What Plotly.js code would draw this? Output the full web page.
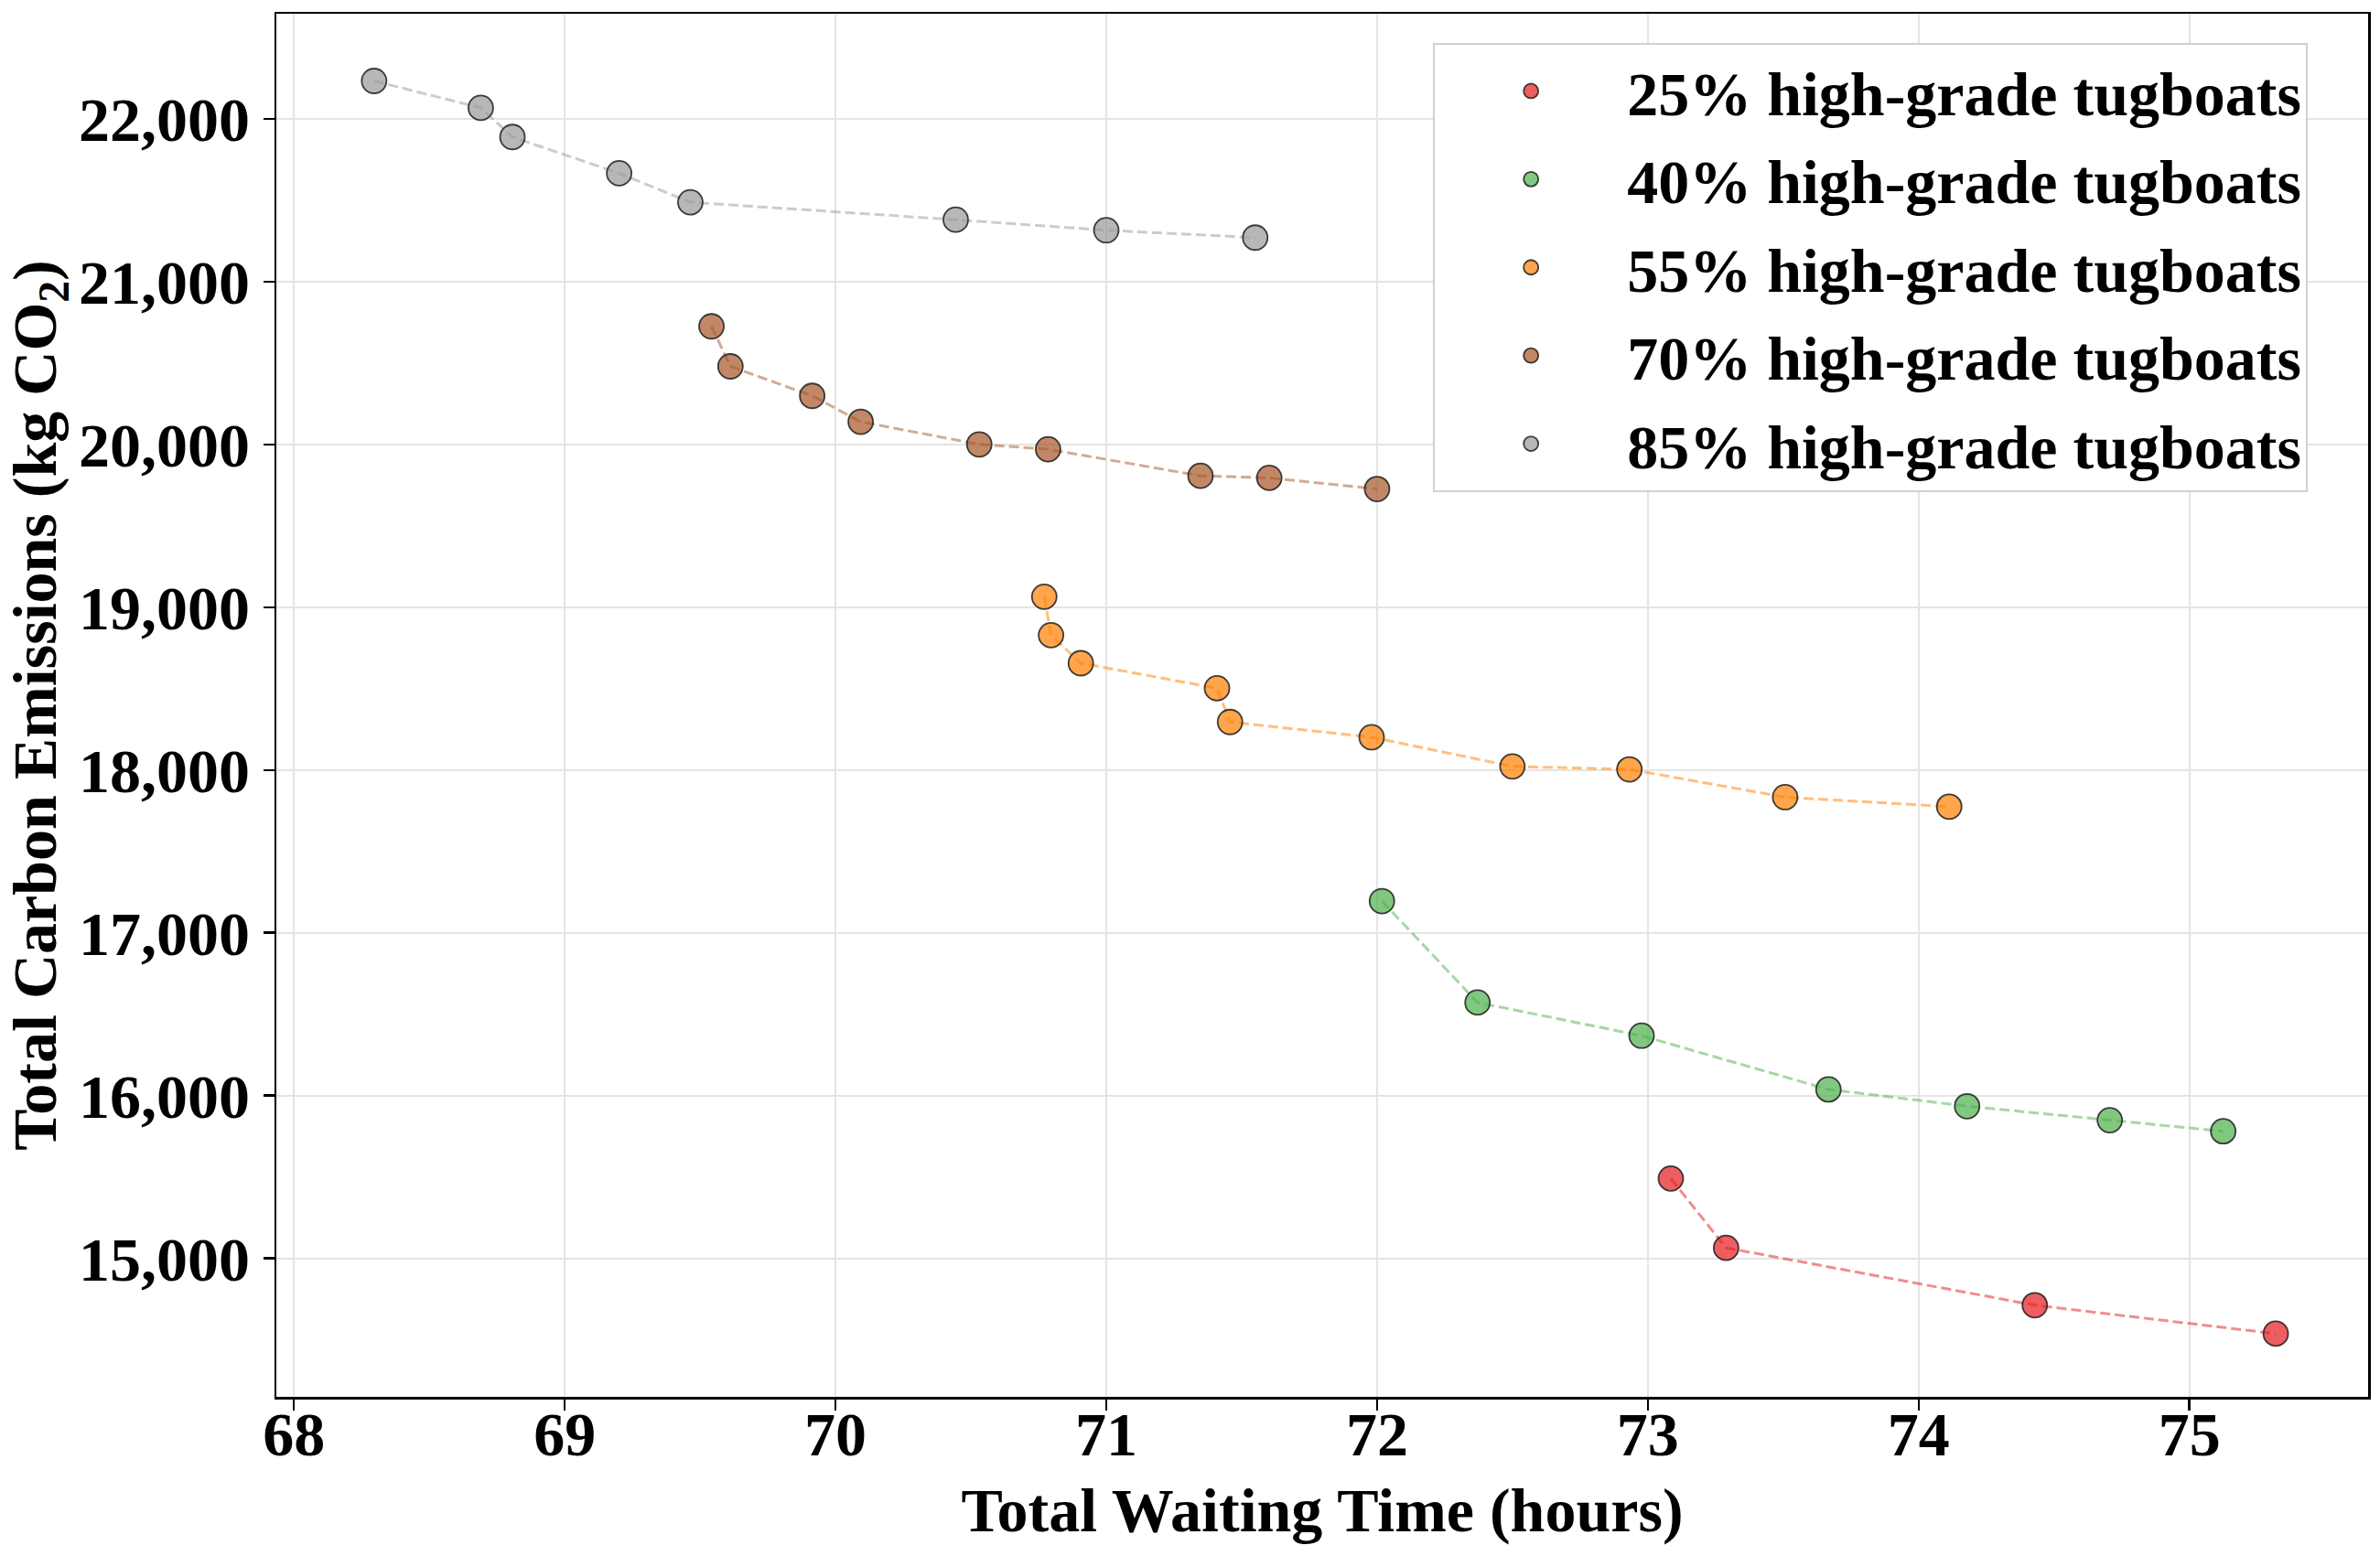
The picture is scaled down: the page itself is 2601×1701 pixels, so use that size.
<!DOCTYPE html>
<html>
<head>
<meta charset="utf-8">
<script src="https://cdn.plot.ly/plotly-3.0.1.min.js"></script>
<style>
  html, body { margin: 0; padding: 0; background: #ffffff; }
  #chart { width: 2601px; height: 1701px; }
</style>
</head>
<body>
<div id="chart"></div>
<script>
// Pareto fronts: total waiting time (h) vs total carbon emissions (kg CO2)
const seriesNames = [
  '25% high-grade tugboats',
  '40% high-grade tugboats',
  '55% high-grade tugboats',
  '70% high-grade tugboats',
  '85% high-grade tugboats'
];

const wait25 = [73.085, 73.289, 74.429, 75.319];
const co2_25 = [15491, 15065, 14713, 14538];

const wait40 = [72.018, 72.371, 72.977, 73.667, 74.179, 74.706, 75.125];
const co2_40 = [17195, 16572, 16368, 16038, 15935, 15849, 15781];

const wait55 = [70.771, 70.796, 70.906, 71.409, 71.457, 71.980, 72.500, 72.932, 73.507, 74.113];
const co2_55 = [19064, 18828, 18656, 18502, 18295, 18201, 18022, 18004, 17833, 17775];

const wait70 = [69.542, 69.612, 69.914, 70.093, 70.531, 70.785, 71.348, 71.602, 72.000];
const co2_70 = [20725, 20479, 20298, 20139, 20000, 19970, 19807, 19794, 19726];

const wait85 = [68.296, 68.690, 68.807, 69.201, 69.464, 70.444, 71.000, 71.550];
const co2_85 = [22232, 22067, 21888, 21665, 21487, 21380, 21315, 21270];

// Set1-like base colours (r, g, b)
const baseColors = [
  [228, 26, 28],
  [77, 175, 74],
  [255, 127, 0],
  [166, 86, 40],
  [153, 153, 153]
];

const FONT = 'Liberation Serif, Times New Roman, serif';
const FONT_SIZE = 68;

function rgba(c, a) {
  return `rgba(${c[0]},${c[1]},${c[2]},${a})`;
}

function textFont() {
  return { family: FONT, size: FONT_SIZE, color: '#000000', weight: 'bold' };
}

function buildTraces() {
  const xs = [wait25, wait40, wait55, wait70, wait85];
  const ys = [co2_25, co2_40, co2_55, co2_70, co2_85];
  const traces = [];

  // dashed connecting lines first, no legend entry
  xs.forEach((x, i) => {
    traces.push({
      type: 'scatter',
      mode: 'lines',
      x: x,
      y: ys[i],
      line: { color: rgba(baseColors[i], 0.5), width: 3, dash: '11px,5px' },
      hoverinfo: 'skip',
      showlegend: false
    });
  });

  // markers on top, these carry the legend (one group each so the gap applies)
  xs.forEach((x, i) => {
    traces.push({
      type: 'scatter',
      mode: 'markers',
      name: seriesNames[i],
      legendgroup: 'g' + i,
      x: x,
      y: ys[i],
      marker: {
        color: rgba(baseColors[i], 0.7),
        size: 27,
        line: { color: 'rgba(30,30,30,0.85)', width: 1.8 }
      }
    });
  });
  return traces;
}

function axisBase() {
  return {
    showline: true,
    linecolor: '#000000',
    linewidth: 2.5,
    mirror: true,
    ticks: 'outside',
    ticklen: 12,
    tickwidth: 2.5,
    tickcolor: '#000000',
    showgrid: true,
    gridcolor: '#e4e4e4',
    gridwidth: 2,
    zeroline: false,
    tickfont: textFont()
  };
}

function buildLayout() {
  const xaxis = Object.assign(axisBase(), {
    range: [67.935, 75.66],
    dtick: 1,
    tick0: 68,
    ticklabelstandoff: -32,
    title: { text: 'Total Waiting Time (hours)', font: textFont(), standoff: 22 }
  });
  const yaxis = Object.assign(axisBase(), {
    range: [14150, 22645],
    dtick: 1000,
    tick0: 0,
    tickformat: ',d',
    ticklabelstandoff: 1,
    title: { text: 'Total Carbon Emissions (kg CO<sub>2</sub>)', font: textFont(), standoff: 19 }
  });
  return {
    width: 2601,
    height: 1701,
    paper_bgcolor: '#ffffff',
    plot_bgcolor: '#ffffff',
    margin: { l: 302, r: 13, t: 15, b: 174 },
    font: textFont(),
    xaxis: xaxis,
    yaxis: yaxis,
    showlegend: true,
    legend: {
      x: 0.553,
      y: 0.979,
      xanchor: 'left',
      yanchor: 'top',
      bgcolor: '#ffffff',
      bordercolor: '#d0d0d0',
      borderwidth: 2,
      itemwidth: 200,
      tracegroupgap: 5,
      font: textFont()
    }
  };
}

Plotly.newPlot('chart', buildTraces(), buildLayout(), { displayModeBar: false, staticPlot: true });
</script>
</body>
</html>
